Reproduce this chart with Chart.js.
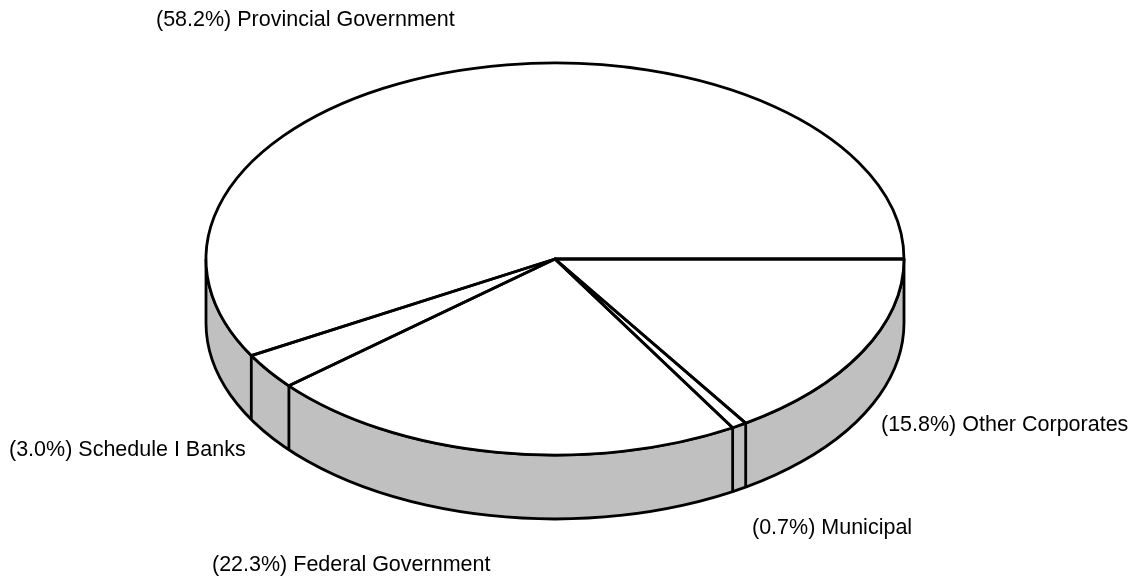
<!DOCTYPE html>
<html>
<head>
<meta charset="utf-8">
<script src="https://cdn.jsdelivr.net/npm/chart.js@4/dist/chart.umd.min.js"></script>
<style>
  html, body { margin: 0; padding: 0; background: #fff; }
  canvas { display: block; }
</style>
</head>
<body>
<canvas id="pieChart" width="1136" height="578"></canvas>
<script>
// data, clockwise from the right edge
const categories = ["Other Corporates", "Municipal", "Federal Government", "Schedule I Banks", "Provincial Government"];
const shares = [15.8, 0.7, 22.3, 3.0, 58.2];

// where each label sits (left x, middle y)
const labelPos = [[881, 425], [752, 528], [212, 565], [9, 450], [156, 20]];

const TILT = 196 / 349;   // ellipse squash
const DEPTH = 64;         // wall height
const LINE = 2.8;

function squash(ctx, cy) {
    ctx.translate(0, cy);
    ctx.scale(1, TILT);
    ctx.translate(0, -cy);
}

// draws the pie as a tilted disc with a grey side wall
const pie3d = {
    id: 'pie3d',
    beforeDatasetsDraw(chart) {
        const ctx = chart.ctx;
        const arcs = chart.getDatasetMeta(0).data;
        const cx = arcs[0].x, cy = arcs[0].y, r = arcs[0].outerRadius;
        const ry = r * TILT;

        ctx.save();
        ctx.beginPath();
        ctx.ellipse(cx, cy, r, ry, 0, 0, Math.PI);
        ctx.ellipse(cx, cy + DEPTH, r, ry, 0, Math.PI, 0, true);
        ctx.closePath();
        ctx.fillStyle = '#c0c0c0';
        ctx.fill();
        ctx.lineWidth = LINE;
        ctx.strokeStyle = '#000';
        ctx.stroke();

        // slice edges on the front wall
        ctx.beginPath();
        arcs.forEach(a => {
            let ang = a.startAngle % (2 * Math.PI);
            if (ang < 0) ang += 2 * Math.PI;
            if (ang > 0.01 && ang < Math.PI - 0.01) {
                const x = cx + r * Math.cos(ang);
                const y = cy + ry * Math.sin(ang);
                ctx.moveTo(x, y);
                ctx.lineTo(x, y + DEPTH);
            }
        });
        ctx.stroke();
        ctx.restore();

        ctx.save();
        squash(ctx, cy);
    },
    afterDatasetsDraw(chart) {
        const ctx = chart.ctx;
        ctx.restore();
        const arcs = chart.getDatasetMeta(0).data;

        ctx.save();
        ctx.lineWidth = LINE;
        ctx.strokeStyle = '#000';
        ctx.lineJoin = 'round';
        arcs.forEach(a => {
            ctx.save();
            squash(ctx, a.y);
            ctx.beginPath();
            ctx.moveTo(a.x, a.y);
            ctx.arc(a.x, a.y, a.outerRadius, a.startAngle, a.endAngle);
            ctx.closePath();
            ctx.restore();
            ctx.stroke();
        });

        ctx.fillStyle = '#000';
        ctx.font = '21.5px "Liberation Sans", Arial, sans-serif';
        ctx.textBaseline = 'middle';
        ctx.textAlign = 'left';
        categories.forEach((c, i) => {
            const txt = '(' + shares[i].toFixed(1) + '%) ' + c;
            ctx.fillText(txt, labelPos[i][0], labelPos[i][1]);
        });
        ctx.restore();
    }
};

new Chart(document.getElementById('pieChart'), {
    type: 'pie',
    data: {
        labels: categories,
        datasets: [{
            data: shares,
            backgroundColor: '#ffffff',
            borderWidth: 0
        }]
    },
    options: {
        responsive: false,
        animation: false,
        events: [],
        rotation: 90,
        radius: 349,
        layout: { padding: { left: 0, right: 26, top: 0, bottom: 60 } },
        plugins: {
            legend: { display: false },
            tooltip: { enabled: false }
        }
    },
    plugins: [pie3d]
});
</script>
</body>
</html>
